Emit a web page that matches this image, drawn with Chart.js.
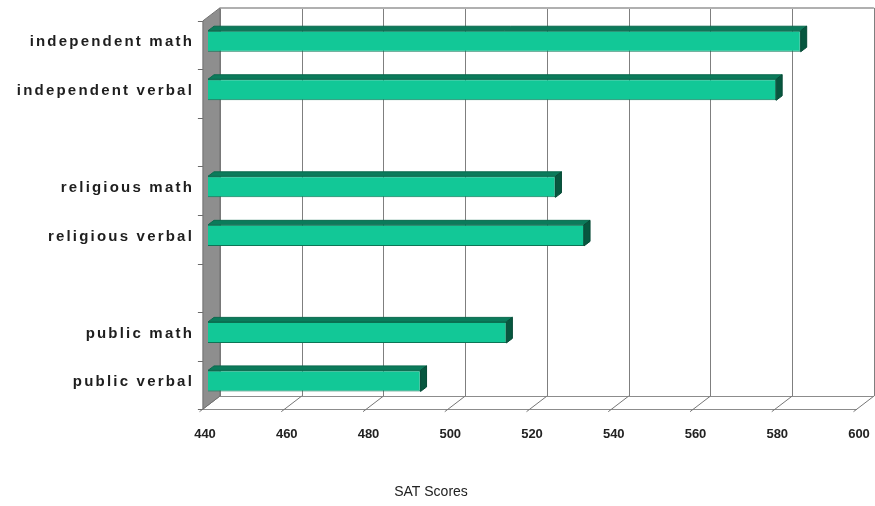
<!DOCTYPE html>
<html>
<head>
<meta charset="utf-8">
<style>
  html, body { margin: 0; padding: 0; background: #ffffff; }
  #wrap { width: 875px; height: 506px; }
</style>
<script src="https://cdn.jsdelivr.net/npm/chart.js@4.4.1/dist/chart.umd.min.js"></script>
</head>
<body>
<div id="wrap"><canvas id="chart" width="875" height="506"></canvas></div>
<script>
// School type / test section rows (blank entries are spacer rows between groups)
const categories = [
  'independent math',
  'independent verbal',
  '',
  'religious math',
  'religious verbal',
  '',
  'public math',
  'public verbal'
];
// Mean SAT score per row
const scores = [585, 579, null, 525, 532, null, 513, 492];
// Score axis ticks
const tickValues = [440, 460, 480, 500, 520, 540, 560, 580, 600];
const axisTitle = 'SAT Scores';

// Pseudo-3D geometry: the plot area is the plane of the bar fronts;
// the box depth runs up and to the right.
const DEPTH = { dx: 17, dy: -13 };
const FACE = 0.3;                   // where bar fronts sit inside the depth
const BAR_DEPTH = { dx: 6, dy: -4.5 };

const toFront = (x, y) => [x - DEPTH.dx * FACE, y - DEPTH.dy * FACE];
const toBack = (x, y) => [x + DEPTH.dx * (1 - FACE), y + DEPTH.dy * (1 - FACE)];

function line(ctx, x1, y1, x2, y2) {
  ctx.beginPath();
  ctx.moveTo(x1, y1);
  ctx.lineTo(x2, y2);
  ctx.stroke();
}
function poly(ctx, pts, fill, stroke) {
  ctx.beginPath();
  pts.forEach(([px, py], i) => (i ? ctx.lineTo(px, py) : ctx.moveTo(px, py)));
  ctx.closePath();
  if (fill) { ctx.fillStyle = fill; ctx.fill(); }
  if (stroke) { ctx.strokeStyle = stroke; ctx.stroke(); }
}

const box3d = {
  id: 'box3d',
  beforeDatasetsDraw(chart) {
    const { ctx, chartArea: { top, bottom }, scales: { x, y } } = chart;
    const xl = x.getPixelForValue(tickValues[0]);
    const xr = x.getPixelForValue(tickValues[tickValues.length - 1]);
    ctx.save();
    ctx.lineWidth = 1;

    // back wall gridlines
    ctx.strokeStyle = '#7f7f7f';
    tickValues.forEach(v => {
      const px = x.getPixelForValue(v);
      const [bx, by1] = toBack(px, top);
      const [, by2] = toBack(px, bottom);
      line(ctx, Math.round(bx) + 0.5, by1, Math.round(bx) + 0.5, by2);
    });
    // back wall top edge
    const [btlx, btly] = toBack(xl, top);
    const [btrx] = toBack(xr, top);
    ctx.strokeStyle = '#b0b0b0';
    ctx.lineWidth = 2;
    line(ctx, btlx, Math.round(btly), btrx, Math.round(btly));
    ctx.lineWidth = 1;

    // floor
    const fl = toFront(xl, bottom), fr = toFront(xr, bottom);
    const bl = toBack(xl, bottom), br = toBack(xr, bottom);
    poly(ctx, [fl, fr, br, bl], '#ffffff', null);
    ctx.strokeStyle = '#8c8c8c';
    line(ctx, fl[0], Math.round(fl[1]) + 0.5, fr[0], Math.round(fl[1]) + 0.5);
    line(ctx, bl[0], Math.round(bl[1]) + 0.5, br[0], Math.round(bl[1]) + 0.5);
    // floor gridlines, running slightly past the front edge as tick marks
    ctx.strokeStyle = '#767676';
    tickValues.forEach(v => {
      const px = x.getPixelForValue(v);
      const [fx, fy] = toFront(px, bottom);
      const [bx, by] = toBack(px, bottom);
      const k = 0.2;
      line(ctx, fx - (bx - fx) * k, fy - (by - fy) * k, bx, by);
    });

    // left wall
    const wtf = toFront(xl, top), wtb = toBack(xl, top);
    poly(ctx, [wtf, wtb, bl, fl], '#8e8e8e', '#6f6f6f');

    // category tick marks on the wall's front edge
    const half = (y.getPixelForValue(1) - y.getPixelForValue(0)) / 2;
    ctx.strokeStyle = '#6a6a6a';
    for (let i = 0; i <= categories.length; i++) {
      const py = y.getPixelForValue(0) - half + i * 2 * half;
      const [fx, fy] = toFront(xl, py);
      line(ctx, fx - 5, Math.round(fy) + 0.5, fx, Math.round(fy) + 0.5);
    }
    ctx.restore();
  },
  afterDatasetsDraw(chart) {
    const { ctx, scales: { x } } = chart;
    const base = x.getPixelForValue(tickValues[0]);
    const meta = chart.getDatasetMeta(0);
    ctx.save();
    meta.data.forEach((bar, i) => {
      if (scores[i] == null) return;
      const { x: xe, y: yc, height } = bar.getProps(['x', 'y', 'height'], true);
      const t = yc - height / 2, b = yc + height / 2;
      const d = BAR_DEPTH;
      // top face
      poly(ctx, [[base, t], [xe, t], [xe + d.dx, t + d.dy], [base + d.dx, t + d.dy]], '#0b7b5b', '#0a6a4e');
      // end face
      poly(ctx, [[xe, t], [xe + d.dx, t + d.dy], [xe + d.dx, b + d.dy], [xe, b]], '#07573f', '#064a36');
    });
    ctx.restore();
  },
  afterDraw(chart) {
    const { ctx, scales: { y } } = chart;
    ctx.save();
    ctx.font = 'bold 15px "Liberation Sans", Arial, sans-serif';
    ctx.letterSpacing = '2.2px';
    ctx.fillStyle = '#1e1e1e';
    ctx.textAlign = 'right';
    ctx.textBaseline = 'middle';
    categories.forEach((label, i) => {
      if (!label) return;
      ctx.fillText(label, 194, y.getPixelForValue(i) + 1);
    });
    ctx.restore();
  }
};

new Chart(document.getElementById('chart'), {
  type: 'bar',
  data: {
    labels: categories,
    datasets: [{
      data: scores,
      backgroundColor: '#12c897',
      borderColor: '#0c7556',
      borderWidth: 1,
      borderSkipped: false,
      barPercentage: 0.434,
      categoryPercentage: 1.0
    }]
  },
  options: {
    indexAxis: 'y',
    responsive: false,
    animation: false,
    devicePixelRatio: 1,
    layout: { padding: { left: 0, right: 13, top: 17, bottom: 0 } },
    plugins: {
      legend: { display: false },
      tooltip: { enabled: false },
      title: {
        display: true,
        text: axisTitle,
        position: 'bottom',
        color: '#222222',
        font: { family: '"Liberation Sans", Arial, sans-serif', size: 14, weight: 'normal' },
        padding: { top: 0, bottom: 5 }
      }
    },
    scales: {
      x: {
        min: tickValues[0],
        max: tickValues[tickValues.length - 1],
        afterBuildTicks: s => { s.ticks = tickValues.map(v => ({ value: v })); },
        afterFit: s => { s.height = 79; s.paddingLeft = 0; s.paddingRight = 0; },
        grid: { display: false, drawTicks: false },
        border: { display: false },
        ticks: {
          color: '#222222',
          padding: 21,
          labelOffset: -3,
          maxRotation: 0,
          autoSkip: false,
          font: { family: '"Liberation Sans", Arial, sans-serif', size: 13, weight: 'bold' }
        }
      },
      y: {
        afterFit: s => { s.width = 208; },
        grid: { display: false, drawTicks: false },
        border: { display: false },
        ticks: { display: false }
      }
    }
  },
  plugins: [box3d]
});
</script>
</body>
</html>
